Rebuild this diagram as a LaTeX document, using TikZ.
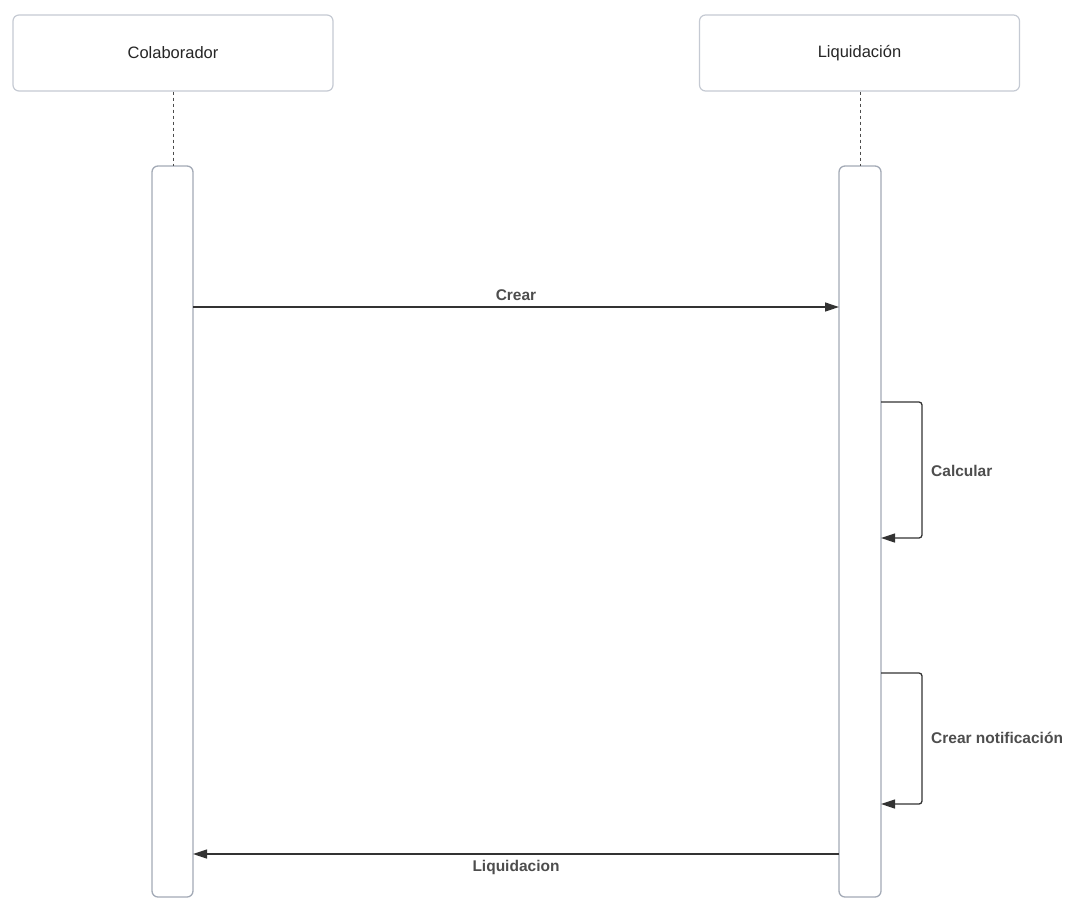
\documentclass[tikz,border=0pt]{standalone}
\usepackage{fontspec}
\setmainfont{Liberation Sans}
\usetikzlibrary{arrows.meta}
\definecolor{boxline}{HTML}{C5CAD3}
\definecolor{barline}{HTML}{A3AAB6}
\definecolor{msgline}{HTML}{333333}
\definecolor{labtext}{HTML}{4D4D4D}
\tikzset{
  actor/.style={draw=boxline, line width=1.2pt, rounded corners=6pt, fill=white, minimum width=320pt, minimum height=76pt, inner sep=0pt, font=\fontsize{16.5}{19}\selectfont, text=black!85},
  actbar/.style={draw=barline, line width=1.3pt, rounded corners=6pt, fill=white},
  lifeline/.style={draw=black!70, dash pattern=on 3pt off 3pt, line width=1pt},
  msg/.style={draw=msgline, line width=1.3pt, -{Triangle[length=14pt,width=9pt]}},
  lab/.style={font=\bfseries\fontsize{15.5}{18}\selectfont, text=labtext, inner sep=1pt}
}
\begin{document}
\begin{tikzpicture}[x=1pt,y=-1pt]
\useasboundingbox (0,0) rectangle (1070,898);
% actors
\node[actor] (colab) at (173,53) {Colaborador};
\node[actor] (liq) at (859.5,53) {Liquidación};
% activation bars
\draw[actbar] (152,166) rectangle (193,897);
\draw[actbar] (839,166) rectangle (881,897);
\coordinate (cbar) at (173,166);
\coordinate (lbar) at (860,166);
% lifelines
\draw[lifeline] (colab.south -| cbar) -- (cbar);
\draw[lifeline] (liq.south -| lbar) -- (lbar);
% message Crear
\coordinate (m1s) at (193,307);
\coordinate (m1e) at (839,307);
\draw[msg] (m1s) -- node[lab, above=5pt] {Crear} (m1e);
% self Calcular
\coordinate (s1a) at (881,402);
\coordinate (s1b) at (922,538);
\coordinate (s1e) at (881,538);
\draw[msg, rounded corners=3pt] (s1a) -| (s1b) -- (s1e);
\node[lab, anchor=west] (calc) at (930,471) {Calcular};
% self Crear notificación
\coordinate (s2a) at (881,673);
\coordinate (s2b) at (922,804);
\coordinate (s2e) at (881,804);
\draw[msg, rounded corners=3pt] (s2a) -| (s2b) -- (s2e);
\node[lab, anchor=west] (notif) at (930,738) {Crear notificación};
% return Liquidacion
\coordinate (m2s) at (839,854);
\coordinate (m2e) at (193,854);
\draw[msg] (m2s) -- node[lab, below=5pt] {Liquidacion} (m2e);
\end{tikzpicture}
\end{document}
